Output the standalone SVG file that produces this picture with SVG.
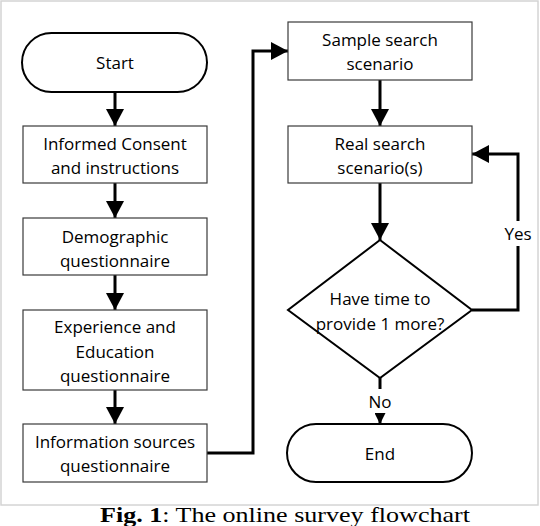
<svg xmlns="http://www.w3.org/2000/svg" width="540" height="526" viewBox="0 0 540 526">
<defs>
<style>
.box{fill:#fff;stroke:#3a3a3a;stroke-width:1.2}
.term{fill:#fff;stroke:#000;stroke-width:2}
.t{font-family:"Open Sans","Noto Sans",sans-serif;font-size:17px;fill:#000;text-anchor:middle;dominant-baseline:central}
.c{fill:none;stroke:#000;stroke-width:3}
.cap{font-family:"Liberation Serif",serif;font-size:22px;fill:#000}
</style>
<marker id="ah" markerUnits="userSpaceOnUse" markerWidth="18" markerHeight="18" refX="17" refY="9" orient="auto" viewBox="0 0 18 18">
<path d="M0,0 L17,9 L0,18 Z" fill="#000"/>
</marker>
<marker id="ahs" markerUnits="userSpaceOnUse" markerWidth="11" markerHeight="11" refX="11" refY="5.5" orient="auto" viewBox="0 0 11 11">
<path d="M0,0 L11,5.5 L0,11 Z" fill="#000"/>
</marker>
</defs>
<rect x="1" y="1" width="537" height="504" fill="#fff" stroke="#d4d4d4" stroke-width="1.5"/>
<g id="connectors">
<path class="c" d="M115,92 V126" marker-end="url(#ah)"/>
<path class="c" d="M115,183 V218" marker-end="url(#ah)"/>
<path class="c" d="M115,275 V310" marker-end="url(#ah)"/>
<path class="c" d="M115,390 V424" marker-end="url(#ah)"/>
<path class="c" d="M207,453 H253 V51 H288" marker-end="url(#ah)"/>
<path class="c" d="M380,80 V126" marker-end="url(#ah)"/>
<path class="c" d="M380,183 V240" marker-end="url(#ah)"/>
<path class="c" d="M472,310 H518 V246"/>
<path class="c" d="M518,221 V154 H472" marker-end="url(#ah)"/>
<path class="c" d="M380,378 V389"/>
<path class="c" d="M380,413 V424" marker-end="url(#ahs)"/>
<text class="t" x="518" y="233">Yes</text>
<text class="t" x="380" y="401">No</text>
</g>
<g id="start">
<rect class="term" x="22" y="33" width="185" height="59" rx="29.5"/>
<text class="t" x="115" y="62">Start</text>
</g>
<g id="consent">
<rect class="box" x="23" y="126" width="184" height="57"/>
<text class="t" x="115" y="143">Informed Consent</text>
<text class="t" x="115" y="167">and instructions</text>
</g>
<g id="demographic">
<rect class="box" x="23" y="218" width="184" height="57"/>
<text class="t" x="115" y="236">Demographic</text>
<text class="t" x="115" y="260">questionnaire</text>
</g>
<g id="experience">
<rect class="box" x="23" y="310" width="184" height="80"/>
<text class="t" x="115" y="326">Experience and</text>
<text class="t" x="115" y="351">Education</text>
<text class="t" x="115" y="375">questionnaire</text>
</g>
<g id="infosources">
<rect class="box" x="23" y="424" width="184" height="58"/>
<text class="t" x="115" y="441">Information sources</text>
<text class="t" x="115" y="465">questionnaire</text>
</g>
<g id="sample">
<rect class="box" x="288" y="22" width="184" height="58"/>
<text class="t" x="380" y="39">Sample search</text>
<text class="t" x="380" y="63">scenario</text>
</g>
<g id="real">
<rect class="box" x="288" y="126" width="184" height="57"/>
<text class="t" x="380" y="143">Real search</text>
<text class="t" x="380" y="167">scenario(s)</text>
</g>
<g id="decision">
<path class="term" d="M380,240 L472,310 L380,378 L288,310 Z"/>
<text class="t" x="380" y="298">Have time to</text>
<text class="t" x="380" y="323">provide 1 more?</text>
</g>
<g id="end">
<rect class="term" x="287" y="424" width="185" height="58" rx="29"/>
<text class="t" x="380" y="453">End</text>
</g>
<text class="cap" x="100" y="522" textLength="370" lengthAdjust="spacingAndGlyphs"><tspan font-weight="bold">Fig. 1</tspan>: The online survey flowchart</text>
</svg>
